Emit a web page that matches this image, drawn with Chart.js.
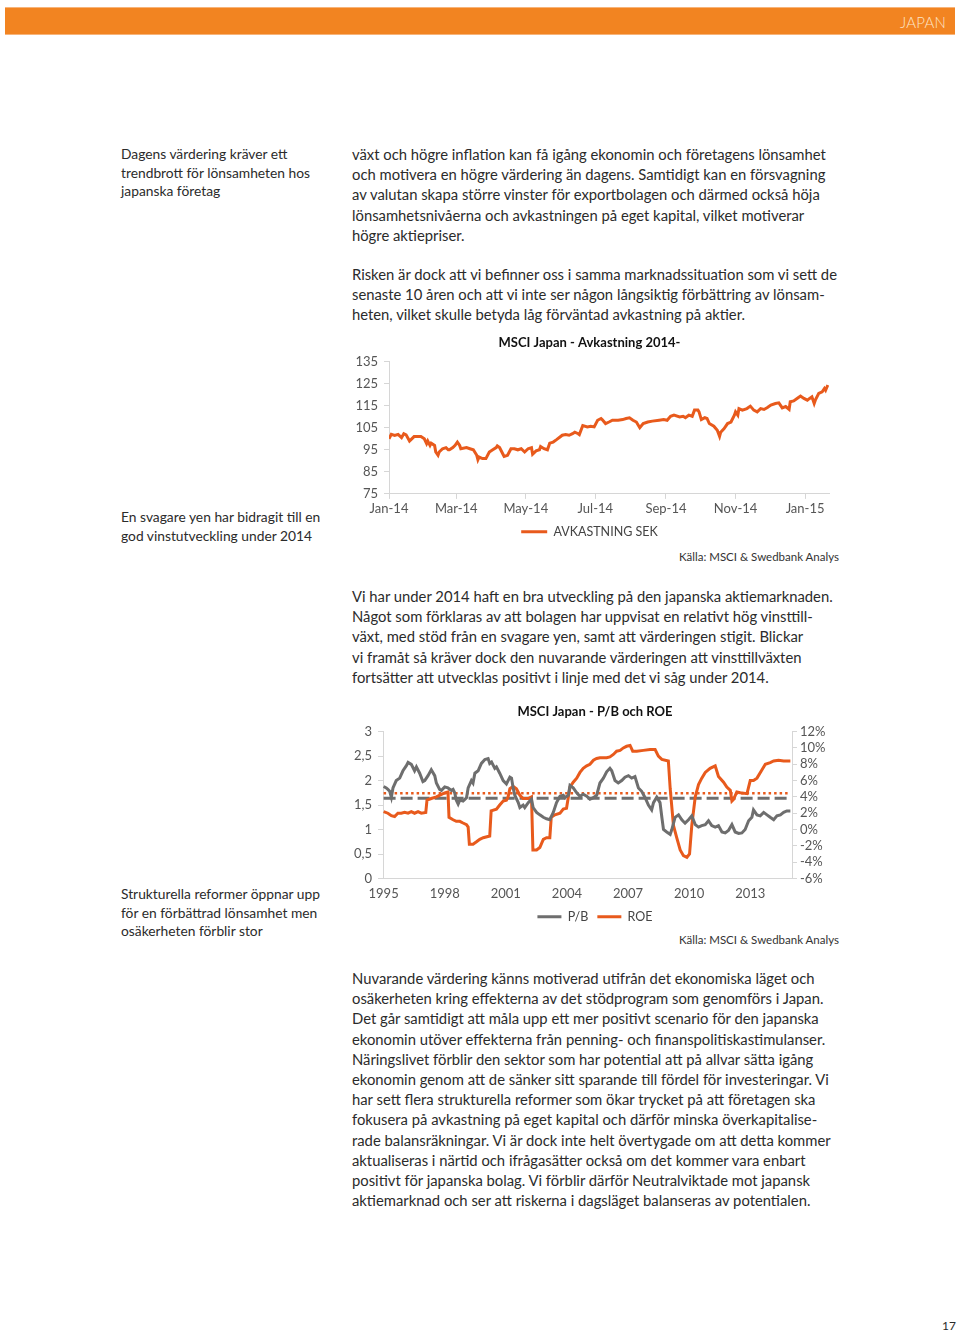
<!DOCTYPE html>
<html lang="sv">
<head>
<meta charset="utf-8">
<title>Japan</title>
<script src="https://cdn.jsdelivr.net/npm/chart.js@4"></script>
<style>
  html, body { margin: 0; padding: 0; background: #fff; }
  body { width: 960px; height: 1333px; position: relative; font-family: Lato, sans-serif; color: #2b2b2b; overflow: hidden; }
  .bar { position: absolute; left: 5px; top: 7px; width: 950px; height: 28px; background: #f28421;
         border-top: 1px solid #f7b47a; border-bottom: 1px solid #f7b47a; box-sizing: border-box; }
  .bar span { position: absolute; right: 9px; top: 5px; color: #fde4c8; font-size: 15px; font-weight: 300; letter-spacing: 0.2px; }
  .side { position: absolute; left: 121px; font-size: 13.8px; line-height: 18.5px; white-space: nowrap; }
  .txt { position: absolute; left: 352px; font-size: 14.8px; line-height: 20.2px; white-space: nowrap; }
  .src { position: absolute; right: 121px; font-size: 11.5px; color: #333; white-space: nowrap; }
  .box { position: absolute; }
  .pg { position: absolute; left: 942px; top: 1318px; font-size: 12px; }
</style>
</head>
<body>
<div class="bar"><span>JAPAN</span></div>

<div class="side" style="top:145px">Dagens värdering kräver ett<br>trendbrott för lönsamheten hos<br>japanska företag</div>
<div class="txt" style="top:144px">växt och högre inflation kan få igång ekonomin och företagens lönsamhet<br>och motivera en högre värdering än dagens. Samtidigt kan en försvagning<br>av valutan skapa större vinster för exportbolagen och därmed också höja<br>lönsamhetsnivåerna och avkastningen på eget kapital, vilket motiverar<br>högre aktiepriser.</div>
<div class="txt" style="top:264px">Risken är dock att vi befinner oss i samma marknadssituation som vi sett de<br>senaste 10 åren och att vi inte ser någon långsiktig förbättring av lönsam-<br>heten, vilket skulle betyda låg förväntad avkastning på aktier.</div>

<div class="box" style="left:350px;top:335px;width:490px;height:213px"><canvas id="avkChart"></canvas></div>
<div class="side" style="top:508px">En svagare yen har bidragit till en<br>god vinstutveckling under 2014</div>
<div class="src" style="top:550px">Källa: MSCI &amp; Swedbank Analys</div>

<div class="txt" style="top:586px">Vi har under 2014 haft en bra utveckling på den japanska aktiemarknaden.<br>Något som förklaras av att bolagen har uppvisat en relativt hög vinsttill-<br>växt, med stöd från en svagare yen, samt att värderingen stigit. Blickar<br>vi framåt så kräver dock den nuvarande värderingen att vinsttillväxten<br>fortsätter att utvecklas positivt i linje med det vi såg under 2014.</div>

<div class="box" style="left:340px;top:700px;width:510px;height:223px"><canvas id="pbChart"></canvas></div>
<div class="side" style="top:885px">Strukturella reformer öppnar upp<br>för en förbättrad lönsamhet men<br>osäkerheten förblir stor</div>
<div class="src" style="top:933px">Källa: MSCI &amp; Swedbank Analys</div>

<div class="txt" style="top:968px">Nuvarande värdering känns motiverad utifrån det ekonomiska läget och<br>osäkerheten kring effekterna av det stödprogram som genomförs i Japan.<br>Det går samtidigt att måla upp ett mer positivt scenario för den japanska<br>ekonomin utöver effekterna från penning- och finanspolitiskastimulanser.<br>Näringslivet förblir den sektor som har potential att på allvar sätta igång<br>ekonomin genom att de sänker sitt sparande till fördel för investeringar. Vi<br>har sett flera strukturella reformer som ökar trycket på att företagen ska<br>fokusera på avkastning på eget kapital och därför minska överkapitalise-<br>rade balansräkningar. Vi är dock inte helt övertygade om att detta kommer<br>aktualiseras i närtid och ifrågasätter också om det kommer vara enbart<br>positivt för japanska bolag. Vi förblir därför Neutralviktade mot japansk<br>aktiemarknad och ser att riskerna i dagsläget balanseras av potentialen.</div>

<div class="pg">17</div>

<script>
(function () {
    'use strict';

    // ---- Chart 1: MSCI Japan - Avkastning 2014- (days since 1 Jan 2014)
    var avkDays = [
        0, 2, 5, 8, 11, 13, 15, 18, 22, 28,
        31, 33, 34, 36, 37, 40, 41, 43, 44, 47,
        50, 52, 53, 56, 58, 60, 62, 63, 68, 71,
        74, 77, 78, 79, 82, 85, 88, 91, 94, 95,
        97, 100, 101, 104, 107, 110, 113, 116, 119, 122,
        125, 126, 129, 132, 133, 136, 139, 141, 144, 147,
        150, 152, 155, 158, 161, 163, 166, 167, 170, 174,
        177, 180, 183, 186, 187, 190, 193, 196, 201, 205,
        208, 211, 214, 217, 220, 223, 227, 231, 237, 241,
        244, 247, 250, 255, 258, 260, 263, 266, 268, 271,
        272, 274, 277, 279, 281, 285, 288, 290, 291, 294,
        297, 300, 303, 304, 306, 307, 310, 314, 317, 320,
        323, 326, 329, 332, 335, 339, 342, 345, 348, 351,
        352, 355, 358, 361, 364, 367, 369, 371, 373, 374,
        377, 380, 382, 383, 385
    ];
    var avkSek = [
        100, 102, 101.5, 102, 100.5, 102.3, 101.8, 99, 101, 101,
        100, 97.8, 99, 97, 98, 97, 94, 92.5, 94, 95.5,
        96, 95, 95, 96, 97, 98.5, 97, 95.5, 96, 95.5,
        95, 92.5, 90.5, 91.7, 91, 91, 94, 95, 96, 96.8,
        96, 93, 92, 92.5, 95.5, 95.5, 95, 95.5, 94, 95.5,
        96, 93, 94.5, 95, 96.5, 95.5, 95, 98, 98.5, 99.6,
        100.8, 101.6, 101.9, 101.6, 102.3, 103, 102.3, 101.9, 106, 105.4,
        105.7, 105.4, 108.4, 109.2, 108.7, 106.9, 107.6, 108.4, 108.4, 108.7,
        109.2, 109.5, 108.4, 107.6, 105, 106.9, 107.6, 108, 108.4, 108.7,
        108.4, 110.2, 110.7, 109.9, 110.2, 109.6, 110.7, 110.2, 113, 113,
        112.2, 108.7, 109.6, 109.2, 106.9, 105.7, 103.9, 101.1, 103, 104.6,
        106.9, 107.6, 110.7, 112.2, 110.7, 113.7, 113, 113.7, 114.8, 113,
        112.2, 113.7, 113.3, 114.2, 115.3, 116, 116.3, 114, 114.6, 113.3,
        116.8, 117.2, 118.3, 119.4, 118.3, 117.5, 118.3, 119, 116, 117.5,
        120.6, 121.3, 122.8, 122, 124.4
    ];
    var avkTickDays   = [0, 59, 120, 181, 243, 304, 365];
    var avkTickLabels = ['Jan-14', 'Mar-14', 'May-14', 'Jul-14', 'Sep-14', 'Nov-14', 'Jan-15'];

    // ---- Chart 2: MSCI Japan - P/B och ROE
    var pbYears = [
        1995.00, 1995.13, 1995.21, 1995.30, 1995.38, 1995.46, 1995.62, 1995.79, 1995.95, 1996.11,
        1996.20, 1996.36, 1996.52, 1996.61, 1996.77, 1996.93, 1997.02, 1997.18, 1997.34, 1997.51,
        1997.59, 1997.75, 1997.84, 1998.00, 1998.16, 1998.33, 1998.41, 1998.49, 1998.57, 1998.66,
        1998.74, 1998.90, 1999.07, 1999.15, 1999.31, 1999.39, 1999.48, 1999.64, 1999.80, 1999.97,
        2000.13, 2000.21, 2000.30, 2000.46, 2000.54, 2000.70, 2000.87, 2001.03, 2001.20, 2001.28,
        2001.36, 2001.44, 2001.61, 2001.69, 2001.85, 2001.93, 2002.10, 2002.26, 2002.34, 2002.51,
        2002.67, 2002.84, 2003.00, 2003.16, 2003.33, 2003.49, 2003.66, 2003.82, 2003.90, 2004.07,
        2004.15, 2004.31, 2004.48, 2004.64, 2004.80, 2004.97, 2005.13, 2005.30, 2005.46, 2005.62,
        2005.79, 2005.95, 2006.11, 2006.20, 2006.36, 2006.52, 2006.69, 2006.85, 2007.02, 2007.18,
        2007.34, 2007.51, 2007.67, 2007.84, 2008.00, 2008.16, 2008.25, 2008.41, 2008.57, 2008.66,
        2008.74, 2008.90, 2009.07, 2009.15, 2009.31, 2009.48, 2009.64, 2009.80, 2009.97, 2010.13,
        2010.30, 2010.46, 2010.62, 2010.79, 2010.95, 2011.11, 2011.28, 2011.44, 2011.61, 2011.77,
        2011.93, 2012.10, 2012.26, 2012.43, 2012.59, 2012.75, 2012.92, 2013.08, 2013.16, 2013.33,
        2013.49, 2013.66, 2013.82, 2013.98, 2014.15, 2014.31, 2014.48, 2014.64, 2014.80, 2014.97
    ];
    var pbValues = [
        1.88, 1.85, 1.82, 1.78, 1.66, 1.85, 2.0, 2.05, 2.2, 2.3,
        2.37, 2.33, 2.2, 2.28, 2.15, 1.98, 2.0, 2.1, 2.22, 2.1,
        1.95, 1.82, 1.8, 1.87, 1.85, 1.8, 1.82, 1.75, 1.6, 1.52,
        1.6, 1.58, 1.65, 1.85, 2.0, 1.95, 2.15, 2.2, 2.35, 2.43,
        2.45, 2.35, 2.38, 2.25, 2.28, 2.15, 2.0, 1.93, 2.07, 2.05,
        1.85, 1.7, 1.55, 1.45, 1.5, 1.45, 1.55, 1.62, 1.45, 1.35,
        1.3, 1.25, 1.22, 1.2, 1.35, 1.55, 1.68, 1.7, 1.65, 1.7,
        1.9, 1.85, 1.75, 1.68, 1.72, 1.68, 1.62, 1.65, 1.7, 1.95,
        2.05, 2.18, 2.25, 2.2, 2.0, 1.95, 2.0, 2.07, 2.1, 2.05,
        2.08, 1.85, 1.78, 1.65, 1.5, 1.4, 1.55, 1.66, 1.55, 1.25,
        1.0, 0.95, 0.9, 1.0, 1.25, 1.3, 1.2, 1.13, 1.2, 1.28,
        1.1, 1.05, 1.08, 1.1, 1.18, 1.08, 1.05, 1.08, 0.95, 0.93,
        0.98, 1.1, 0.95, 0.92, 0.93, 1.0, 1.18, 1.25, 1.4, 1.3,
        1.28, 1.35, 1.3, 1.25, 1.2, 1.28, 1.3, 1.35, 1.38, 1.38
    ];
    var roeYears = [
        1995.00, 1995.21, 1995.38, 1995.54, 1995.70, 1995.87, 1996.03, 1996.20, 1996.36, 1996.52,
        1996.69, 1996.85, 1997.07, 1997.13, 1997.34, 1997.59, 1997.84, 1998.00, 1998.16, 1998.21,
        1998.41, 1998.57, 1998.74, 1998.90, 1999.07, 1999.15, 1999.21, 1999.39, 1999.56, 1999.72,
        1999.89, 2000.21, 2000.28, 2000.54, 2000.70, 2000.87, 2001.03, 2001.11, 2001.20, 2001.36,
        2001.52, 2001.69, 2001.85, 2002.10, 2002.26, 2002.33, 2002.51, 2002.67, 2002.84, 2003.00,
        2003.16, 2003.23, 2003.41, 2003.66, 2003.82, 2003.98, 2004.07, 2004.15, 2004.31, 2004.48,
        2004.64, 2004.80, 2004.97, 2005.13, 2005.30, 2005.46, 2005.62, 2005.95, 2006.11, 2006.28,
        2006.44, 2006.61, 2006.77, 2006.93, 2007.10, 2007.23, 2007.43, 2007.75, 2008.08, 2008.33,
        2008.49, 2008.66, 2008.98, 2009.07, 2009.23, 2009.39, 2009.56, 2009.72, 2009.89, 2010.02,
        2010.13, 2010.30, 2010.46, 2010.62, 2010.79, 2011.03, 2011.28, 2011.44, 2011.69, 2011.85,
        2012.02, 2012.10, 2012.18, 2012.34, 2012.51, 2012.84, 2013.00, 2013.16, 2013.33, 2013.57,
        2013.74, 2013.98, 2014.15, 2014.39, 2014.64, 2014.97
    ];
    var roeValues = [
        2.2, 2.0, 1.7, 1.6, 2.0, 2.0, 2.1, 2.0, 2.2, 2.0,
        2.2, 2.0, 2.1, 3.6, 3.8, 4.0, 4.3, 4.5, 4.6, 1.5,
        1.2, 1.0, 1.0, 0.8, 0.6, 0.3, -1.8, -1.8, -1.5, -1.2,
        -1.0, -0.8, 2.3, 2.5, 3.0, 3.5, 3.6, 4.0, 5.0, 5.3,
        5.0, 4.2, 3.8, 3.8, 4.0, -2.5, -2.5, -2.2, -1.2, -1.0,
        -1.0, 1.5, 1.8, 2.0, 2.5, 2.6, 4.0, 5.2, 5.8, 6.3,
        7.0, 7.5, 7.8, 8.0, 8.5, 8.7, 8.8, 8.8, 8.9, 9.2,
        9.6, 9.7, 10.0, 10.2, 10.3, 9.6, 9.6, 9.7, 9.8, 9.8,
        9.0, 8.6, 8.4, 5.0, 0.5, -1.0, -2.5, -3.2, -3.4, -3.0,
        0.5, 4.0, 5.5, 6.3, 7.0, 7.5, 7.8, 6.5, 5.8, 5.2,
        4.8, 3.5, 3.7, 4.6, 4.5, 4.4, 6.0, 6.0, 6.3, 7.3,
        8.0, 8.2, 8.4, 8.5, 8.4, 8.4
    ];
    var pbAverage  = 1.64;
    var roeAverage = 4.45;
    var yearTicks  = [1995, 1998, 2001, 2004, 2007, 2010, 2013];

    var orange = '#e85a1c';
    var grey   = '#6e6e6e';
    var axisCol = '#d6d6d6';
    var tickFont = { family: 'Lato', size: 13 };
    var tickCol  = '#555';

    function zip(xs, ys) {
        return xs.map(function (x, i) { return { x: x, y: ys[i] }; });
    }

    // legend adds 10px plus bottom padding under the labels; cut that off
    var legendTrim = {
        id: 'legendTrim',
        beforeInit: function (chart) {
            var lg = chart.legend;
            if (!lg) return;
            var fit = lg.fit;
            lg.fit = function () {
                fit.call(this);
                this.height -= 10;
            };
        }
    };

    // Chart 1
    new Chart(document.getElementById('avkChart'), {
        type: 'line',
        data: {
            datasets: [{
                label: 'AVKASTNING SEK',
                data: zip(avkDays, avkSek),
                borderColor: orange,
                backgroundColor: orange,
                borderWidth: 3,
                pointRadius: 0,
                tension: 0
            }]
        },
        options: {
            animation: false,
            responsive: true,
            maintainAspectRatio: false,
            layout: { padding: { left: 0, right: 11, top: 0, bottom: 0 } },
            plugins: {
                title: {
                    display: true,
                    text: 'MSCI Japan - Avkastning 2014-',
                    color: '#111',
                    font: { family: 'Lato', size: 13, weight: 'bold' },
                    padding: { top: 0, bottom: 11 }
                },
                legend: {
                    position: 'bottom',
                    labels: {
                        usePointStyle: true,
                        pointStyle: 'line',
                        pointStyleWidth: 26,
                        color: '#444',
                        font: { family: 'Lato', size: 12.5 },
                        padding: 7
                    }
                },
                tooltip: { enabled: false }
            },
            scales: {
                x: {
                    type: 'linear',
                    min: 0,
                    max: 386,
                    afterBuildTicks: function (s) { s.ticks = avkTickDays.map(function (v) { return { value: v }; }); },
                    ticks: {
                        autoSkip: false, maxRotation: 0, padding: 2,
                        color: tickCol, font: tickFont,
                        callback: function (v, i) { return avkTickLabels[i]; }
                    },
                    grid: { drawOnChartArea: false, tickLength: 5, color: axisCol },
                    border: { color: axisCol }
                },
                y: {
                    min: 75,
                    max: 135,
                    afterFit: function (s) { s.width = 39; },
                    ticks: { stepSize: 10, autoSkip: false, padding: 6, color: tickCol, font: tickFont },
                    grid: { drawOnChartArea: false, tickLength: 5, color: axisCol },
                    border: { color: axisCol }
                }
            }
        }
    });

    // Chart 2
    var xMin = 1994.97, xMax = 2015.05;
    new Chart(document.getElementById('pbChart'), {
        type: 'line',
        data: {
            datasets: [
                {
                    label: 'P/B',
                    data: zip(pbYears, pbValues),
                    yAxisID: 'y',
                    borderColor: grey,
                    backgroundColor: grey,
                    borderWidth: 3,
                    pointRadius: 0,
                    tension: 0
                },
                {
                    label: 'ROE',
                    data: zip(roeYears, roeValues),
                    yAxisID: 'y1',
                    borderColor: orange,
                    backgroundColor: orange,
                    borderWidth: 3,
                    pointRadius: 0,
                    tension: 0
                },
                {
                    label: 'P/B snitt',
                    data: [{ x: 1995, y: pbAverage }, { x: 2014.97, y: pbAverage }],
                    yAxisID: 'y',
                    borderColor: grey,
                    borderWidth: 3,
                    borderDash: [12, 5],
                    pointRadius: 0
                },
                {
                    label: 'ROE snitt',
                    data: [{ x: 1995, y: roeAverage }, { x: 2014.97, y: roeAverage }],
                    yAxisID: 'y1',
                    borderColor: orange,
                    borderWidth: 2.5,
                    borderDash: [2.5, 3],
                    pointRadius: 0
                }
            ]
        },
        plugins: [legendTrim],
        options: {
            animation: false,
            responsive: true,
            maintainAspectRatio: false,
            layout: { padding: 0 },
            plugins: {
                title: {
                    display: true,
                    text: 'MSCI Japan - P/B och ROE',
                    color: '#111',
                    font: { family: 'Lato', size: 13, weight: 'bold' },
                    padding: { top: 4, bottom: 12 }
                },
                legend: {
                    position: 'bottom',
                    labels: {
                        usePointStyle: true,
                        pointStyle: 'line',
                        pointStyleWidth: 24,
                        color: '#444',
                        font: { family: 'Lato', size: 12.5 },
                        padding: 9,
                        filter: function (item) { return item.datasetIndex < 2; }
                    }
                },
                tooltip: { enabled: false }
            },
            scales: {
                x: {
                    type: 'linear',
                    min: xMin,
                    max: xMax,
                    afterBuildTicks: function (s) { s.ticks = yearTicks.map(function (v) { return { value: v }; }); },
                    afterFit: function (s) { s.height = 23; },
                    ticks: {
                        autoSkip: false, maxRotation: 0, padding: 9,
                        color: tickCol, font: { family: 'Lato', size: 13, lineHeight: 1 },
                        callback: function (v) { return String(v); }
                    },
                    grid: { display: false, drawTicks: false },
                    border: { color: axisCol }
                },
                y: {
                    position: 'left',
                    min: 0,
                    max: 3,
                    afterFit: function (s) { s.width = 43; },
                    ticks: {
                        stepSize: 0.5, autoSkip: false, padding: 6, color: tickCol, font: tickFont,
                        callback: function (v) { return String(v).replace('.', ','); }
                    },
                    grid: { drawOnChartArea: false, tickLength: 5, color: axisCol },
                    border: { color: axisCol }
                },
                y1: {
                    position: 'right',
                    min: -6,
                    max: 12,
                    afterFit: function (s) { s.width = 58; },
                    ticks: {
                        stepSize: 2, autoSkip: false, padding: 3, color: tickCol, font: tickFont,
                        callback: function (v) { return v + '%'; }
                    },
                    grid: { drawOnChartArea: false, tickLength: 5, color: axisCol },
                    border: { color: axisCol }
                }
            }
        }
    });
})();
</script>
</body>
</html>
